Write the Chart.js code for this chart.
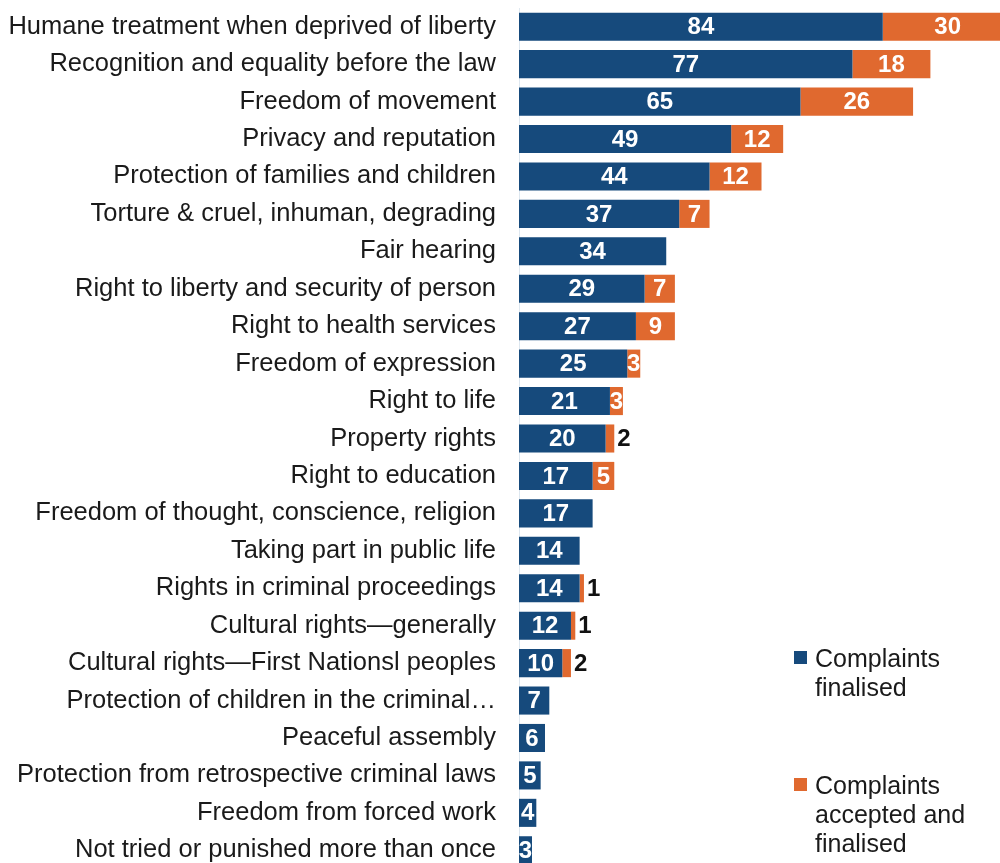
<!DOCTYPE html>
<html lang="en">
<head>
    <meta charset="UTF-8">
    <title>Complaints by right</title>
    <script src="https://cdn.jsdelivr.net/npm/chart.js"></script>
    <style>
        html, body {
            margin: 0;
            padding: 0;
            background: #ffffff;
            overflow: hidden;
            width: 1000px;
            height: 863px;
        }
        .wrap {
            position: absolute;
            left: 0;
            top: 0;
            width: 1030px;
            height: 869px;
        }
        .legend {
            position: absolute;
            left: 794px;
            font-family: "Liberation Sans", Arial, sans-serif;
            font-size: 25px;
            line-height: 29px;
            color: #1a1a1a;
        }
        .legend .sw {
            position: absolute;
            left: 0;
            top: 7px;
            width: 13px;
            height: 13px;
        }
        .legend .txt {
            margin-left: 21px;
        }
    </style>
</head>
<body>

    <div class="wrap">
        <canvas id="rightsChart" width="1030" height="869"></canvas>
    </div>

    <div class="legend" style="top: 644px;">
        <div class="sw" style="background:#164a7c;"></div>
        <div class="txt">Complaints<br>finalised</div>
    </div>
    <div class="legend" style="top: 771px;">
        <div class="sw" style="background:#e0692f;"></div>
        <div class="txt">Complaints<br>accepted and<br>finalised</div>
    </div>

    <script>
        const categories = [
            "Humane treatment when deprived of liberty",
            "Recognition and equality before the law",
            "Freedom of movement",
            "Privacy and reputation",
            "Protection of families and children",
            "Torture & cruel, inhuman, degrading",
            "Fair hearing",
            "Right to liberty and security of person",
            "Right to health services",
            "Freedom of expression",
            "Right to life",
            "Property rights",
            "Right to education",
            "Freedom of thought, conscience, religion",
            "Taking part in public life",
            "Rights in criminal proceedings",
            "Cultural rights\u2014generally",
            "Cultural rights\u2014First Nationsl peoples",
            "Protection of children in the criminal\u2026",
            "Peaceful assembly",
            "Protection from retrospective criminal laws",
            "Freedom from forced work",
            "Not tried or punished more than once"
        ];
        const finalised = [84, 77, 65, 49, 44, 37, 34, 29, 27, 25, 21, 20, 17, 17, 14, 14, 12, 10, 7, 6, 5, 4, 3];
        const accepted = [30, 18, 26, 12, 12, 7, null, 7, 9, 3, 3, 2, 5, null, null, 1, 1, 2, null, null, null, null, null];

        const blue = "#164a7c";
        const orange = "#e0692f";

        // value labels: white inside the segment, black just right of it when too small
        const valueLabels = {
            id: "valueLabels",
            afterDatasetsDraw(chart) {
                const ctx = chart.ctx;
                ctx.save();
                ctx.font = "bold 24px 'Liberation Sans', Arial, sans-serif";
                ctx.textBaseline = "middle";
                chart.data.datasets.forEach((ds, di) => {
                    const meta = chart.getDatasetMeta(di);
                    meta.data.forEach((bar, i) => {
                        const v = ds.data[i];
                        if (v === null || v === undefined) return;
                        if (di === 1 && v <= 2) {
                            ctx.fillStyle = "#111111";
                            ctx.textAlign = "left";
                            ctx.fillText(String(v), bar.x + 3, bar.y + 1);
                        } else {
                            ctx.fillStyle = "#ffffff";
                            ctx.textAlign = "center";
                            ctx.fillText(String(v), (bar.x + bar.base) / 2, bar.y + 1);
                        }
                    });
                });
                ctx.restore();
            }
        };

        const ctx = document.getElementById("rightsChart").getContext("2d");
        new Chart(ctx, {
            type: "bar",
            data: {
                labels: categories,
                datasets: [
                    {
                        label: "Complaints finalised",
                        data: finalised,
                        backgroundColor: blue,
                        borderWidth: 0,
                        barPercentage: 0.75,
                        categoryPercentage: 1.0
                    },
                    {
                        label: "Complaints accepted and finalised",
                        data: accepted,
                        backgroundColor: orange,
                        borderWidth: 0,
                        barPercentage: 0.75,
                        categoryPercentage: 1.0
                    }
                ]
            },
            options: {
                indexAxis: "y",
                responsive: false,
                animation: false,
                devicePixelRatio: 1,
                layout: { padding: { top: 8, right: 0, bottom: 0, left: 0 } },
                plugins: {
                    legend: { display: false },
                    tooltip: { enabled: false }
                },
                scales: {
                    x: {
                        stacked: true,
                        display: false,
                        min: 0,
                        max: 118
                    },
                    y: {
                        stacked: true,
                        grid: { display: false, drawTicks: false },
                        border: { display: true, color: "#dfe8f0", width: 1 },
                        ticks: {
                            padding: 23,
                            color: "#1a1a1a",
                            font: { family: "'Liberation Sans', Arial, sans-serif", size: 25.5 }
                        },
                        afterFit(scale) {
                            scale.width = 519;
                            scale.paddingTop = 0;
                            scale.paddingBottom = 0;
                        }
                    }
                }
            },
            plugins: [valueLabels]
        });
    </script>

</body>
</html>
